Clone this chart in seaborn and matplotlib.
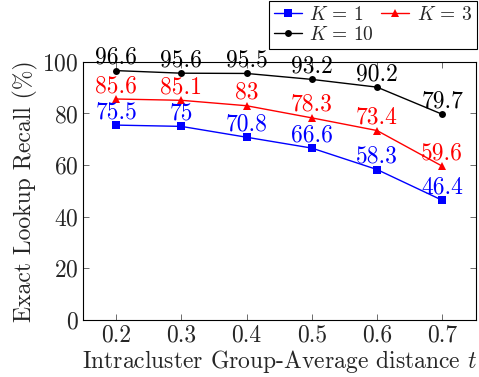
import matplotlib
matplotlib.use("Agg")
import matplotlib.pyplot as plt
import seaborn as sns
import pandas as pd

# Intracluster group-average distance thresholds
t_values = [0.2, 0.3, 0.4, 0.5, 0.6, 0.7]

# Exact lookup recall (%) for each K
recall_k1 = [75.5, 75, 70.8, 66.6, 58.3, 46.4]
recall_k3 = [85.6, 85.1, 83, 78.3, 73.4, 59.6]
recall_k10 = [96.6, 95.6, 95.5, 93.2, 90.2, 79.7]

y_ticks = [0, 20, 40, 60, 80, 100]

sns.set_style("ticks")
plt.rcParams["font.family"] = ["serif"]
plt.rcParams["font.serif"] = ["cmr10", "DejaVu Serif"]
plt.rcParams["mathtext.fontset"] = "cm"
plt.rcParams["axes.formatter.use_mathtext"] = True

FS = 17

fig = plt.figure(figsize=(4.79, 3.77), dpi=100)
ax = fig.add_axes([0.173, 0.151, 0.821, 0.685])

series = [
    (r"$K\,=\,1$", recall_k1, "#0000ff", "s", 5.5),
    (r"$K\,=\,3$", recall_k3, "#ff0000", "^", 5.5),
    (r"$K\,=\,10$", recall_k10, "#000000", "o", 5),
]

for label, values, color, marker, ms in series:
    df = pd.DataFrame({"t": t_values, "recall": values})
    sns.lineplot(data=df, x="t", y="recall", ax=ax, color=color,
                 marker=marker, markersize=ms, markeredgewidth=0,
                 linewidth=1.0, label=label)
    for x, y in zip(t_values, values):
        ax.annotate(f"{y:g}", (x, y), xytext=(0, 5), textcoords="offset points",
                    ha="center", va="baseline", color=color, fontsize=FS)

ax.set_xlim(0.149, 0.752)
ax.set_ylim(0, 100)
ax.set_xticks(t_values)
ax.set_xticklabels([f"{v:g}" for v in t_values])
ax.set_yticks(y_ticks)
ax.tick_params(direction="in", top=True, right=True, labelsize=FS, length=4,
               width=0.6, color="#555555", pad=3)
for sp in ax.spines.values():
    sp.set_linewidth(0.8)
    sp.set_color("black")
    sp.set_visible(True)

ax.set_xlabel(r"Intracluster Group-Average distance $t$", fontsize=FS, labelpad=1)
ax.set_ylabel("Exact Lookup Recall (%)", fontsize=FS, labelpad=3)

h, l = ax.get_legend_handles_labels()
order = [0, 2, 1]
ax.legend([h[i] for i in order], [l[i] for i in order], ncol=2,
          loc="upper right", bbox_to_anchor=(0.998, 1.0),
          bbox_transform=fig.transFigure, frameon=True, fancybox=False,
          edgecolor="black", framealpha=1, fontsize=14, handlelength=1.45,
          handletextpad=0.4, columnspacing=0.35, borderpad=0.25,
          labelspacing=0.1, borderaxespad=0.05)
ax.get_legend().get_frame().set_linewidth(0.8)

fig.savefig("out.png", dpi=100)
